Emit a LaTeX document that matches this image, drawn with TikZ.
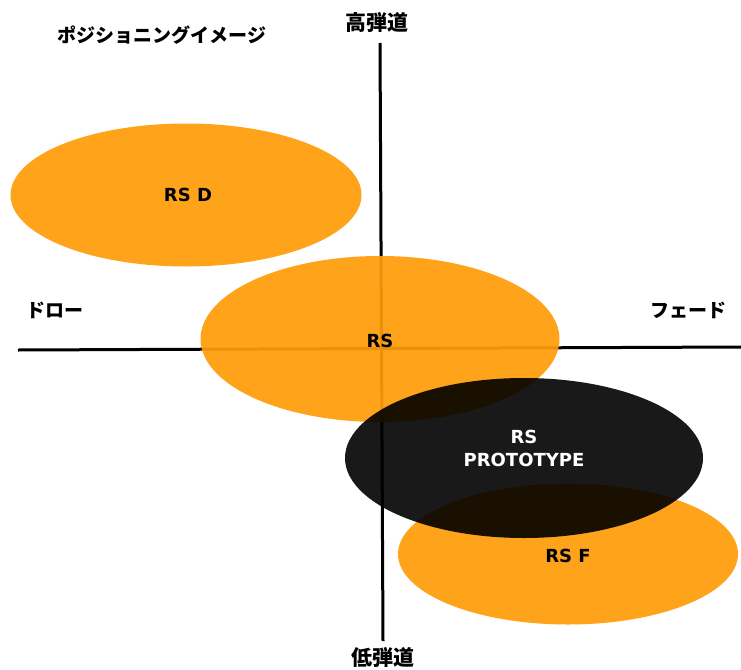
\documentclass[tikz,border=0pt]{standalone}
\usepackage{fontspec}
\newfontfamily\jpfont{Noto Sans CJK JP}
\newfontfamily\latfont{DejaVu Sans}
\usetikzlibrary{shapes.geometric}
\definecolor{orangeA}{HTML}{FF9C0A}
\definecolor{darkA}{HTML}{000000}
\tikzset{
  blob/.style={ellipse, inner sep=0pt, fill=orangeA, fill opacity=0.93, draw=none},
  darkblob/.style={ellipse, inner sep=0pt, fill=darkA, fill opacity=0.9, draw=none},
  axis/.style={line width=3pt, black},
  jplabel/.style={font=\jpfont\bfseries\fontsize{19}{22}\selectfont, inner sep=0pt},
  axlabel/.style={font=\jpfont\bfseries\fontsize{21}{24}\selectfont, inner sep=0pt},
  enlabel/.style={font=\latfont\bfseries\fontsize{18}{23}\selectfont, inner sep=0pt, align=center},
}
\begin{document}
\begin{tikzpicture}[x=1pt,y=-1pt]
\useasboundingbox (0,0) rectangle (741,669);
% axes
\coordinate (hl) at (18,350);
\coordinate (hr) at (741,347);
\coordinate (vt) at (380,43);
\coordinate (vb) at (383,641);
\draw[axis] (hl) -- (hr);
\draw[axis] (vt) -- (vb);
% ellipses
\node[blob, minimum width=351, minimum height=143] (rsd) at (186,195) {};
\node[blob, minimum width=359, minimum height=166] (rs) at (380,339) {};
\node[blob, minimum width=340, minimum height=141] (rsf) at (568,554) {};
\node[darkblob, minimum width=358, minimum height=160] (rsp) at (524,458) {};
% ellipse labels
\node[enlabel] (trsd) at (188,195) {RS D};
\node[enlabel] (trs) at (380,341) {RS};
\node[enlabel, text=white] (trsp) at (524,448) {RS\\PROTOTYPE};
\node[enlabel] (trsf) at (568,556) {RS F};
% texts
\node[jplabel] (title) at (162,35) {ポジショニングイメージ};
\node[axlabel] (hi) at (377,22) {高弾道};
\node[axlabel] (lo) at (383,657) {低弾道};
\node[jplabel] (draw) at (55,310) {ドロー};
\node[jplabel] (fade) at (688,310) {フェード};
\end{tikzpicture}
\end{document}
